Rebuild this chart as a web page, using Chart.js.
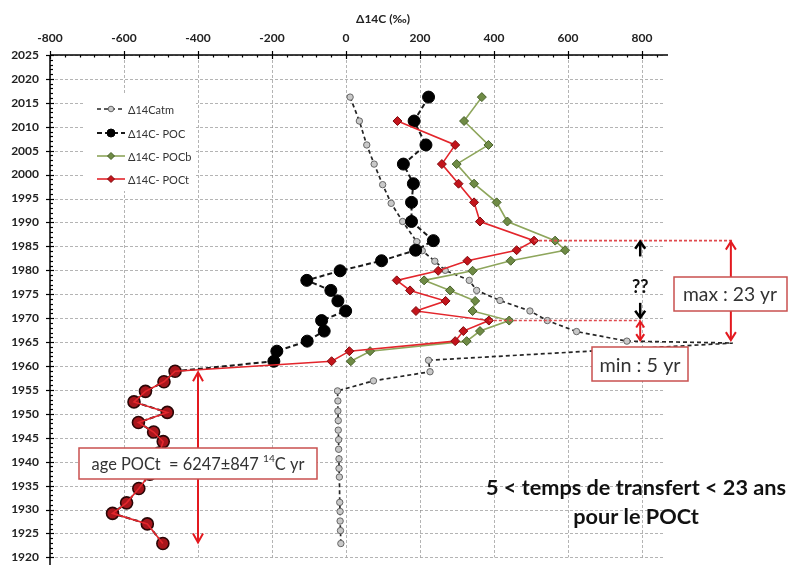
<!DOCTYPE html>
<html><head><meta charset="utf-8">
<script src="https://cdn.jsdelivr.net/npm/chart.js@4.4.1/dist/chart.umd.min.js"></script>
<style>html,body{margin:0;padding:0;background:#fff}</style>
</head><body>
<canvas id="c" width="788" height="565"></canvas>
<script>
// ---- data ----
const recentYears = [2016.2, 2011.2, 2006.2, 2002.2, 1998.1, 1994.2, 1990.2, 1986.2, 1984.2, 1982.0, 1979.9, 1977.9, 1975.8, 1973.6, 1971.5, 1969.5, 1967.3, 1965.2, 1963.1, 1961.0];
const pocValues  = [223, 184, 216, 155, 182, 177, 177, 236, 188, 96, -16, -106, -41, -22, -1, -66, -59, -105, -187, -195];
const pocbValues = [367, 319, 385, 299, 346, 407, 436, 565, 592, 445, 342, 211, 281, 349, 342, 441, 362, 326, 65, 13];
const poctYears  = [2011.2, 2006.2, 2002.2, 1998.1, 1994.2, 1990.2, 1986.2, 1984.2, 1982.0, 1979.9, 1977.9, 1975.8, 1973.6, 1971.5, 1969.5, 1967.3, 1965.2, 1963.1, 1961.0];
const poctValues = [139, 295, 259, 304, 346, 362, 508, 461, 328, 249, 137, 173, 269, 189, 386, 317, 295, 9, -39];
const oldYears   = [1958.9, 1956.7, 1954.7, 1952.5, 1950.3, 1948.2, 1946.2, 1944.2, 1941.8, 1939.6, 1937.4, 1934.4, 1931.4, 1929.2, 1927.0, 1922.9];
const oldValues  = [-462, -492, -542, -573, -483, -561, -520, -494, -505, -515, -530, -560, -593, -631, -537, -495];
const atmYears   = [2016.2, 2011.2, 2006.2, 2002.2, 1997.9, 1994.0, 1990.2, 1986.0, 1984.1, 1981.9, 1980.0, 1977.9, 1975.8, 1973.7, 1971.5, 1969.5, 1967.2, 1965.2, 1964.8, 1961.2, 1958.8, 1956.9, 1954.8, 1952.7, 1950.6, 1948.6, 1946.6, 1944.6, 1942.6, 1940.6, 1938.6, 1936.8, 1931.5, 1929.6, 1927.6, 1925.6, 1922.9];
const atmValues  = [11, 36, 56, 76, 99, 122, 153, 191, 206, 240, 268, 333, 353, 416, 497, 544, 623, 759, 1045, 223, 227, 74, -23, -22, -22, -21, -21, -20, -20, -19, -19, -18, -17, -16, -16, -15, -14];
const xTickLabels = [-800, -600, -400, -200, 0, 200, 400, 600, 800];
const yTickLabels = [1920, 1925, 1930, 1935, 1940, 1945, 1950, 1955, 1960, 1965, 1970, 1975, 1980, 1985, 1990, 1995, 2000, 2005, 2010, 2015, 2020, 2025];
const seriesNames = ['Δ14Catm', 'Δ14C- POC', 'Δ14C- POCb', 'Δ14C- POCt'];

const X_MAX = 862;
function pts(xs, ys) { return xs.map((v, i) => ({x: v, y: ys[i]})); }

const styles = {
  atm:  {line: '#262626', width: 1.7, dash: [4, 3], fill: '#c9c9c9', border: '#666', r: 3.2, shape: 'circle'},
  poc:  {line: '#1a1a1a', width: 2, dash: [5, 3], fill: '#000', border: '#000', r: 6, shape: 'circle'},
  pocb: {line: '#8ea65c', width: 1.6, dash: [], fill: '#6f8b45', border: '#465f28', r: 4.5, shape: 'rectRot'},
  poct: {line: '#e3262c', width: 1.6, dash: [], fill: '#c3141b', border: '#7e0b0f', r: 4.5, shape: 'rectRot'}
};

function lineLR(ctx, x1, y1, x2, y2) { ctx.beginPath(); ctx.moveTo(x1, y1); ctx.lineTo(x2, y2); ctx.stroke(); }
function vHead(ctx, x, y, dir, w, h) { // dir: -1 tip up, +1 tip down
  ctx.beginPath(); ctx.moveTo(x - w, y - dir * h); ctx.lineTo(x, y); ctx.lineTo(x + w, y - dir * h); ctx.stroke();
}
function fitFont(ctx, text, target, weight, fam) {
  ctx.font = weight + ' 20px ' + fam;
  const w = ctx.measureText(text).width;
  return 20 * target / w;
}
function textBox(ctx, l, t, r, b) {
  ctx.fillStyle = '#fff'; ctx.fillRect(l, t, r - l, b - t);
  ctx.strokeStyle = '#c9504f'; ctx.lineWidth = 1.5; ctx.strokeRect(l, t, r - l, b - t);
}

const decor = {
  id: 'decor',
  beforeDatasetsDraw(chart) {
    const {ctx, chartArea: a, scales: {x, y}} = chart;
    ctx.save();
    ctx.strokeStyle = 'rgba(130,130,130,0.6)';
    ctx.lineWidth = 1;
    ctx.setLineDash([3, 2]);
    yTickLabels.forEach(v => { const py = Math.round(y.getPixelForValue(v)) + 0.5; lineLR(ctx, a.left, py, a.right, py); });
    xTickLabels.forEach(v => { const px = Math.round(x.getPixelForValue(v)) + 0.5; lineLR(ctx, px, a.top, px, a.bottom); });
    ctx.setLineDash([]);
    // legend background
    ctx.fillStyle = '#fff';
    ctx.fillRect(83, 93, 113, 98);
    ctx.restore();
  },
  afterDatasetsDraw(chart) {
    const {ctx, chartArea: a, scales: {x, y}} = chart;
    const X = v => x.getPixelForValue(v), Y = v => y.getPixelForValue(v);
    ctx.save();
    // axes
    ctx.strokeStyle = '#000'; ctx.lineWidth = 1.5;
    lineLR(ctx, a.left, a.top, a.right + 3, a.top);
    lineLR(ctx, a.left, a.top, a.left, 565);
    ctx.lineWidth = 1.2;
    for (let v = -800; v <= 840; v += 40) {
      const px = Math.round(X(v)) + 0.5;
      if (v % 200 === 0) lineLR(ctx, px, a.top - 4, px, a.top + 4);
      else lineLR(ctx, px, a.top, px, a.top + 2.5);
    }
    for (let v = 1920; v <= 2025; v += 1) {
      const py = Math.round(Y(v)) + 0.5;
      if (v % 5 === 0) lineLR(ctx, a.left - 4, py, a.left + 4, py);
      else lineLR(ctx, a.left, py, a.left + 3, py);
    }
    // axis title
    ctx.fillStyle = '#222'; ctx.font = 'bold 12px Lato'; ctx.textAlign = 'center'; ctx.textBaseline = 'middle';
    ctx.fillText('Δ14C (‰)', 383, 19);

    // annotations (data units)
    const peakYear = 1986.2, lowYear = 1969.5, atmPeakYear = 1965.2;
    const colA = 795, colB = 1040;
    ctx.strokeStyle = '#e04a4e'; ctx.lineWidth = 1.6; ctx.setLineDash([3, 2]);
    lineLR(ctx, X(508), Y(peakYear), X(1046), Y(peakYear));
    lineLR(ctx, X(386), Y(lowYear), X(colA), Y(lowYear));
    ctx.setLineDash([]);

    // black arrows and ??
    ctx.strokeStyle = '#000'; ctx.lineWidth = 2.5;
    const xa = X(colA);
    lineLR(ctx, xa, Y(1982.9), xa, Y(peakYear) + 1);
    vHead(ctx, xa, Y(peakYear) + 1, -1, 5, 7);
    lineLR(ctx, xa, Y(1973.2), xa, Y(1970.1));
    vHead(ctx, xa, Y(1970.1), 1, 5, 7);
    ctx.fillStyle = '#111'; ctx.font = 'bold 18px Lato'; ctx.textAlign = 'center'; ctx.textBaseline = 'middle';
    ctx.fillText('??', xa, 287);

    // red double arrows
    ctx.strokeStyle = '#e3191f'; ctx.lineWidth = 2;
    lineLR(ctx, xa, Y(lowYear) + 1, xa, Y(atmPeakYear) - 1);
    vHead(ctx, xa, Y(lowYear) + 1, -1, 4, 6);
    vHead(ctx, xa, Y(atmPeakYear) - 1, 1, 4, 6);
    const xb = X(colB);
    lineLR(ctx, xb, Y(peakYear) + 1, xb, Y(atmPeakYear) - 1);
    vHead(ctx, xb, Y(peakYear) + 1, -1, 5, 8);
    vHead(ctx, xb, Y(atmPeakYear) - 1, 1, 5, 8);
    const xc = X(-400);
    lineLR(ctx, xc, Y(1958.9) + 1, xc, Y(1922.9) - 1);
    vHead(ctx, xc, Y(1958.9) + 1, -1, 5, 9);
    vHead(ctx, xc, Y(1922.9) - 1, 1, 5, 9);

    // text boxes
    ctx.fillStyle = '#333'; ctx.textBaseline = 'middle'; ctx.textAlign = 'center';
    textBox(ctx, 674, 277, 787, 311);
    ctx.fillStyle = '#333';
    ctx.font = fitFont(ctx, 'max : 23 yr', 94, '', 'Lato').toFixed(1) + 'px Lato';
    ctx.fillText('max : 23 yr', 730, 295);

    textBox(ctx, 592, 347, 688, 381);
    ctx.fillStyle = '#333';
    ctx.font = fitFont(ctx, 'min : 5 yr', 81, '', 'Lato').toFixed(1) + 'px Lato';
    ctx.fillText('min : 5 yr', 640, 366);

    textBox(ctx, 79, 448, 317, 479);
    ctx.fillStyle = '#333'; ctx.textAlign = 'left';
    const t1 = 'age POCt  = 6247±847 ', t2 = '14', t3 = 'C yr';
    const fs = 16;
    ctx.font = fs + 'px Lato'; const w1 = ctx.measureText(t1).width, w3 = ctx.measureText(t3).width;
    ctx.font = (fs * 0.62) + 'px Lato'; const w2 = ctx.measureText(t2).width;
    const scale = 213 / (w1 + w2 + w3);
    const f = fs * scale;
    ctx.font = f + 'px Lato'; const a1 = ctx.measureText(t1).width;
    ctx.font = (f * 0.62) + 'px Lato'; const a2 = ctx.measureText(t2).width;
    let sx = 198 - (a1 + a2 + w3 * scale) / 2;
    ctx.font = f + 'px Lato'; ctx.fillText(t1, sx, 465);
    ctx.font = (f * 0.62) + 'px Lato'; ctx.fillText(t2, sx + a1, 459);
    ctx.font = f + 'px Lato'; ctx.fillText(t3, sx + a1 + a2, 465);

    // bottom-right statement
    ctx.fillStyle = '#111'; ctx.textAlign = 'center';
    const s1 = '5 < temps de transfert < 23 ans';
    const bf = fitFont(ctx, s1, 300, 'bold', 'Lato');
    ctx.font = 'bold ' + bf.toFixed(1) + 'px Lato';
    ctx.fillText(s1, 636, 488);
    ctx.fillText('pour le POCt', 636, 517);

    // legend
    const ly = [109, 133, 156, 179];
    const keys = ['atm', 'poc', 'pocb', 'poct'];
    keys.forEach((k, i) => {
      const s = styles[k];
      ctx.strokeStyle = s.line; ctx.lineWidth = s.width; ctx.setLineDash(s.dash);
      lineLR(ctx, 97, ly[i], 125, ly[i]);
      ctx.setLineDash([]);
      ctx.fillStyle = s.fill; ctx.strokeStyle = s.border; ctx.lineWidth = 1;
      const r = k === 'poc' ? 4 : (k === 'atm' ? 2.8 : 3.5);
      ctx.beginPath();
      if (s.shape === 'circle') ctx.arc(111, ly[i], r, 0, Math.PI * 2);
      else { ctx.moveTo(111, ly[i] - r); ctx.lineTo(111 + r, ly[i]); ctx.lineTo(111, ly[i] + r); ctx.lineTo(111 - r, ly[i]); ctx.closePath(); }
      ctx.fill(); ctx.stroke();
      ctx.fillStyle = '#333'; ctx.font = '11px Lato'; ctx.textAlign = 'left'; ctx.textBaseline = 'middle';
      ctx.fillText(seriesNames[i], 128, ly[i] + 1);
    });
    ctx.restore();
  }
};

function ds(label, data, s, extra) {
  return Object.assign({
    label, data, showLine: true,
    borderColor: s.line, borderWidth: s.width, borderDash: s.dash,
    pointBackgroundColor: s.fill, pointBorderColor: s.border, pointBorderWidth: 1,
    pointRadius: s.r, pointStyle: s.shape, tension: 0
  }, extra || {});
}

new Chart(document.getElementById('c'), {
  type: 'scatter',
  data: {
    datasets: [
      ds(seriesNames[3], pts(poctValues.concat(oldValues), poctYears.concat(oldYears)), styles.poct,
        {order: 1, pointRadius: c => c.dataIndex >= poctYears.length ? 0 : styles.poct.r}),
      ds(seriesNames[2], pts(pocbValues, recentYears), styles.pocb, {order: 2}),
      ds(seriesNames[1], pts(pocValues.concat(oldValues), recentYears.concat(oldYears)), styles.poc,
        {order: 3,
         pointBackgroundColor: c => c.dataIndex >= recentYears.length ? '#a8161c' : '#000',
         pointBorderColor: c => c.dataIndex >= recentYears.length ? '#2a0707' : '#000',
         pointBorderWidth: c => c.dataIndex >= recentYears.length ? 1.6 : 1}),
      ds(seriesNames[0], pts(atmValues, atmYears), styles.atm,
        {order: 4, clip: false, pointRadius: c => (c.raw && c.raw.x > X_MAX) ? 0 : styles.atm.r})
    ]
  },
  options: {
    responsive: false, animation: false, devicePixelRatio: 1,
    layout: {padding: {left: 0, top: 0, right: 788 - 665, bottom: 3}},
    plugins: {legend: {display: false}, tooltip: {enabled: false}},
    scales: {
      x: {
        type: 'linear', position: 'top', min: -800, max: X_MAX,
        afterBuildTicks: s => { s.ticks = xTickLabels.map(v => ({value: v})); },
        afterFit: s => { s.height = 55; s.paddingLeft = 0; s.paddingRight = 0; },
        grid: {display: false, drawTicks: false}, border: {display: false},
        ticks: {font: {family: 'Lato', weight: 'bold', size: 12}, color: '#222', padding: 10, maxRotation: 0, autoSkip: false,
                callback: v => String(v)}
      },
      y: {
        type: 'linear', min: 1920, max: 2025,
        afterBuildTicks: s => { s.ticks = yTickLabels.map(v => ({value: v})); },
        afterFit: s => { s.width = 50; s.paddingTop = 0; s.paddingBottom = 0; },
        grid: {display: false, drawTicks: false}, border: {display: false},
        ticks: {font: {family: 'Lato', weight: 'bold', size: 12}, color: '#222', padding: 11, autoSkip: false,
                callback: v => String(v)}
      }
    }
  },
  plugins: [decor]
});
</script>
</body></html>
